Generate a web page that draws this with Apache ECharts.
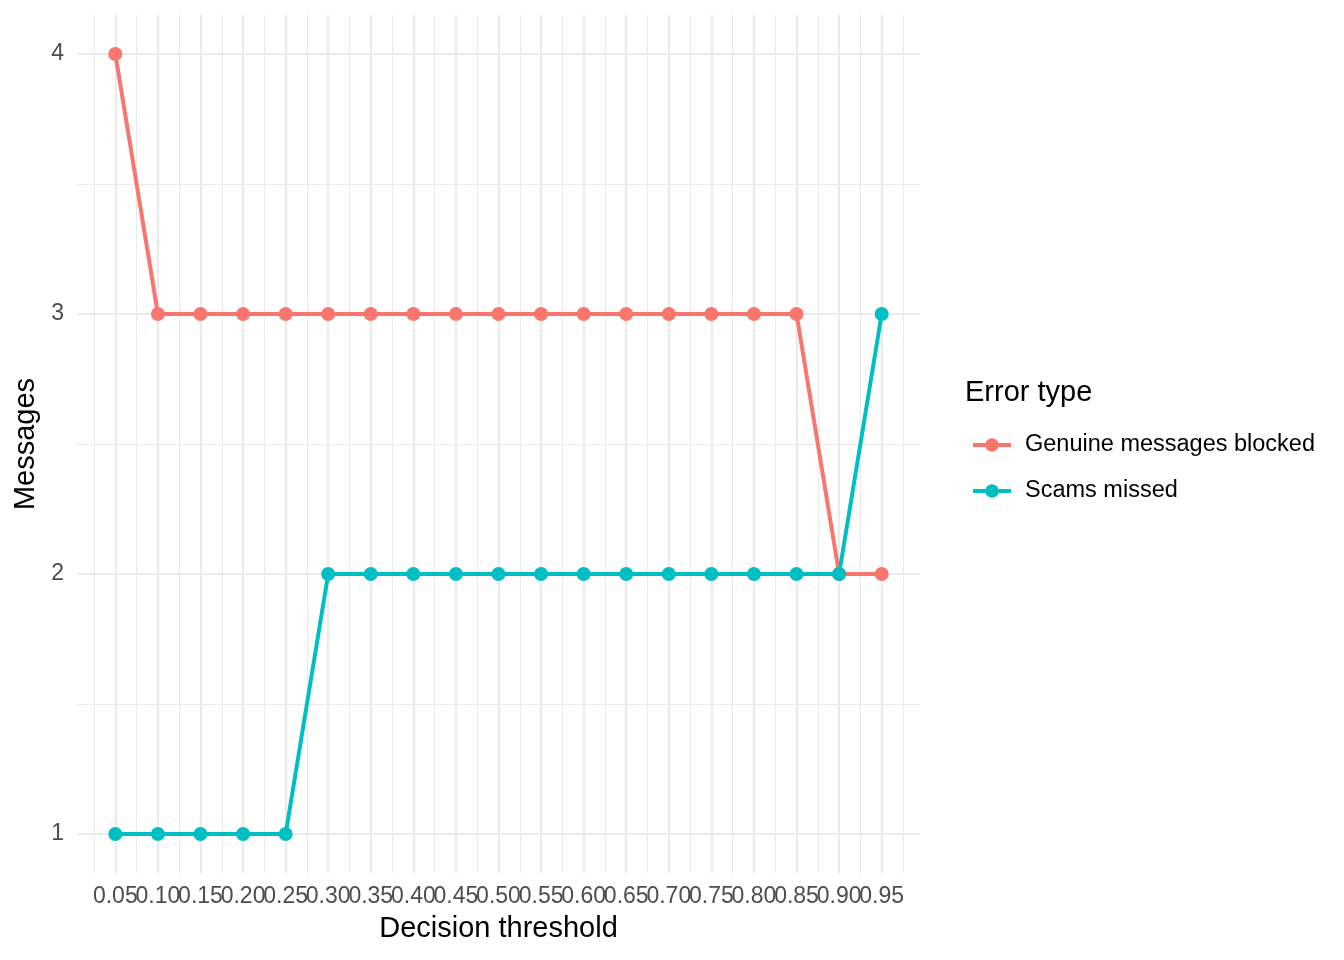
<!DOCTYPE html>
<html>
<head>
<meta charset="utf-8">
<script src="https://cdn.jsdelivr.net/npm/echarts@6/dist/echarts.min.js"></script>
<style>
  html, body { margin: 0; padding: 0; background: #fff; }
  #chart { width: 1344px; height: 960px; }
</style>
</head>
<body>
<div id="chart"></div>
<script>
// decision thresholds (x) and error counts per type
const thresholds = [0.05, 0.10, 0.15, 0.20, 0.25, 0.30, 0.35, 0.40, 0.45, 0.50,
                    0.55, 0.60, 0.65, 0.70, 0.75, 0.80, 0.85, 0.90, 0.95]
const genuineBlocked = [4, 3, 3, 3, 3, 3, 3, 3, 3, 3, 3, 3, 3, 3, 3, 3, 3, 2, 2]
const scamsMissed = [1, 1, 1, 1, 1, 2, 2, 2, 2, 2, 2, 2, 2, 2, 2, 2, 2, 2, 3]
const yTicks = [1, 2, 3, 4]
const yMinor = [1.5, 2.5, 3.5]
const seriesNames = ['Genuine messages blocked', 'Scams missed']
const colors = ['#F8766D', '#00BFC4']

// minor gridlines sit half way between the thresholds
const step = 0.05
const xMinor = thresholds.map(t => +(t - step / 2).toFixed(3))
xMinor.push(+(thresholds[thresholds.length - 1] + step / 2).toFixed(3))

// tick labels touch each other, echarts would hide half of them,
// so they are split over two axes drawn at the same place
const labelsA = thresholds.filter((t, i) => i % 2 === 0)
const labelsB = thresholds.filter((t, i) => i % 2 === 1)

const chart = echarts.init(document.getElementById('chart'))
const gridColor = '#EBEBEB'
const font = 'Liberation Sans, Arial, sans-serif'

const xLabel = vals => ({
  customValues: vals, margin: 12, color: '#4D4D4D', interval: 0,
  fontFamily: font, fontSize: 23, formatter: v => v.toFixed(2)
})

const option = {
  backgroundColor: '#fff',
  animation: false,
  title: [
    { text: 'Error type', left: 960, top: 373,
      textStyle: { fontFamily: font, fontSize: 29, fontWeight: 'normal', color: '#000' } },
  ],
  grid: { left: 77, right: 424, top: 15, bottom: 87, containLabel: false, outerBoundsMode: 'none' },
  legend: {
    orient: 'vertical',
    left: 966, top: 428,
    itemWidth: 38, itemHeight: 17, itemGap: 22,
    data: seriesNames,
    lineStyle: { width: 4 },
    textStyle: { fontFamily: font, fontSize: 23.5, color: '#000', padding: [0, 0, 0, 9] }
  },
  xAxis: [
    {
      type: 'value', min: 0.005, max: 0.995,
      name: 'Decision threshold', nameLocation: 'middle', nameGap: 41,
      nameTextStyle: { fontFamily: font, fontSize: 29, color: '#000' },
      axisLine: { show: false },
      axisTick: { show: false, customValues: thresholds },
      axisLabel: xLabel(labelsA),
      splitLine: { show: true, lineStyle: { color: gridColor, width: 2.2 } }
    },
    {
      type: 'value', min: 0.005, max: 0.995, position: 'bottom',
      axisLine: { show: false },
      axisTick: { show: false, customValues: xMinor },
      axisLabel: { show: false, customValues: xMinor },
      splitLine: { show: true, lineStyle: { color: gridColor, width: 1.1 } }
    },
    {
      type: 'value', min: 0.005, max: 0.995, position: 'bottom',
      axisLine: { show: false },
      axisTick: { show: false, customValues: labelsB },
      axisLabel: xLabel(labelsB),
      splitLine: { show: false }
    }
  ],
  yAxis: [
    {
      type: 'value', min: 0.85, max: 4.15,
      name: 'Messages', nameLocation: 'middle', nameGap: 37, nameRotate: 90,
      nameTextStyle: { fontFamily: font, fontSize: 29, color: '#000' },
      axisLine: { show: false },
      axisTick: { show: false, customValues: yTicks },
      axisLabel: { customValues: yTicks, margin: 13, color: '#4D4D4D',
                   fontFamily: font, fontSize: 23 },
      splitLine: { show: true, lineStyle: { color: gridColor, width: 2.2 } }
    },
    {
      type: 'value', min: 0.85, max: 4.15, position: 'left',
      axisLine: { show: false },
      axisTick: { show: false, customValues: yMinor },
      axisLabel: { show: false, customValues: yMinor },
      splitLine: { show: true, lineStyle: { color: gridColor, width: 1.1 } }
    }
  ],
  series: [genuineBlocked, scamsMissed].map((vals, i) => ({
    name: seriesNames[i],
    type: 'line',
    xAxisIndex: 0, yAxisIndex: 0,
    data: thresholds.map((t, j) => [t, vals[j]]),
    color: colors[i],
    symbol: 'circle', symbolSize: 14,
    lineStyle: { width: 4, color: colors[i] },
    itemStyle: { color: colors[i] },
    z: 2 + i
  }))
}

chart.setOption(option)
</script>
</body>
</html>
